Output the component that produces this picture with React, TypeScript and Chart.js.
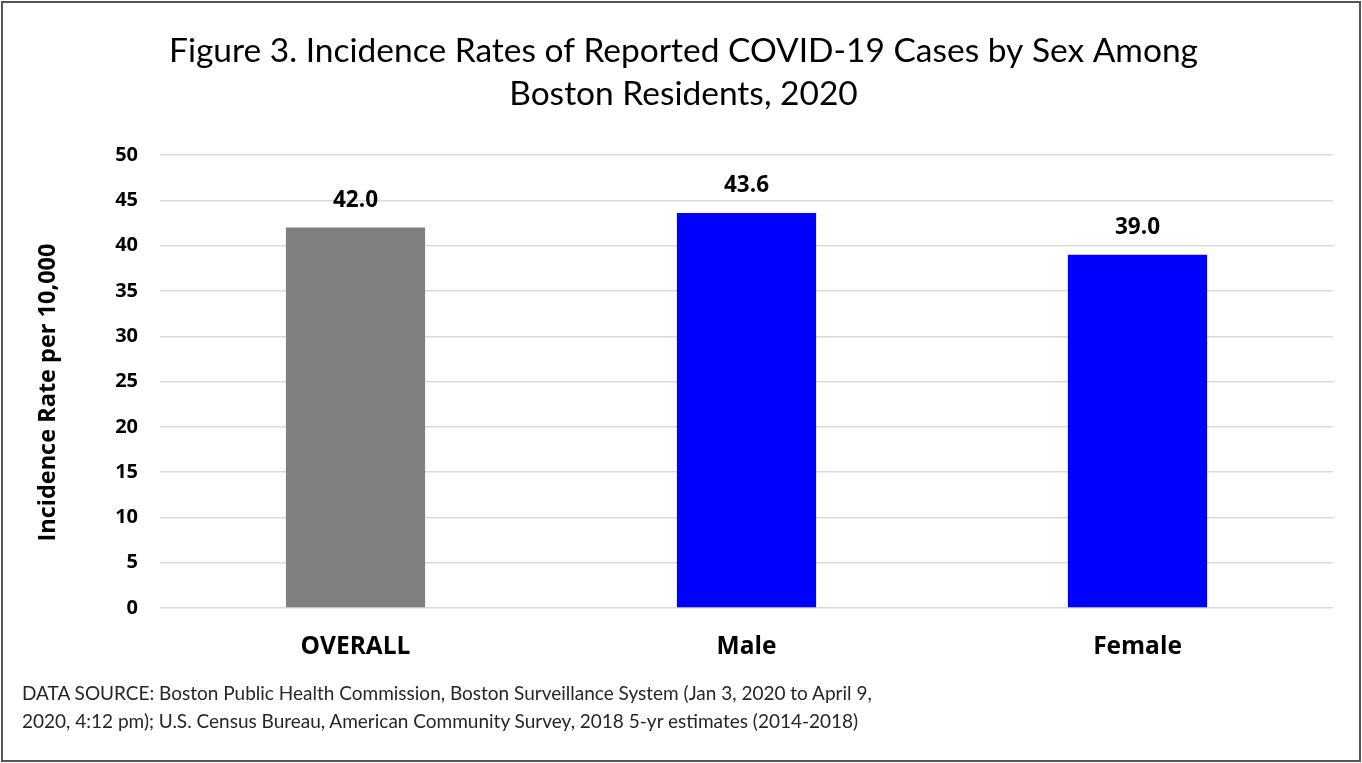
import React, { useEffect, useRef } from "react";
import { Chart, registerables } from "chart.js";

Chart.register(...registerables);

const categories = ["OVERALL", "Male", "Female"];
const rates = [42.0, 43.6, 39.0];
const barColors = ["#808080", "#0000FF", "#0000FF"];
const titleLines = [
  "Figure 3. Incidence Rates of Reported COVID-19 Cases by Sex Among",
  "Boston Residents, 2020",
];
const yAxisTitle = "Incidence Rate per 10,000";
const footerLines = [
  "DATA SOURCE: Boston Public Health Commission, Boston Surveillance System (Jan 3, 2020 to April 9,",
  "2020, 4:12 pm); U.S. Census Bureau, American Community Survey, 2018 5-yr estimates (2014-2018)",
];

const FONT = "Lato, 'Open Sans', sans-serif";
const BOLD = "'Open Sans', Lato, sans-serif";
const W = 1362;
const H = 763;
const PAD_L = 34;
const PAD_R = 29;
const PAD_B = 90;
const AREA_L = 160;
const AREA_B = 608;

const dataLabelPlugin = {
  id: "dataLabels",
  afterDatasetsDraw(chart: any) {
    const ctx = chart.ctx;
    const meta = chart.getDatasetMeta(0);
    ctx.save();
    ctx.font = `bold 22.5px ${BOLD}`;
    ctx.fillStyle = "#000";
    ctx.textAlign = "center";
    ctx.textBaseline = "middle";
    meta.data.forEach((el: any, i: number) => {
      ctx.fillText(rates[i].toFixed(1), el.x, el.y - 27);
    });
    ctx.restore();
  },
};

const yTitlePlugin = {
  id: "yTitle",
  afterDraw(chart: any) {
    const ctx = chart.ctx;
    const area = chart.chartArea;
    ctx.save();
    ctx.translate(48, (area.top + area.bottom) / 2 + 11);
    ctx.rotate(-Math.PI / 2);
    ctx.font = `bold 23.5px ${BOLD}`;
    ctx.fillStyle = "#000";
    ctx.textAlign = "center";
    ctx.textBaseline = "middle";
    ctx.fillText(yAxisTitle, 0, 0);
    ctx.restore();
  },
};

export default function App() {
  const ref = useRef<HTMLCanvasElement | null>(null);
  useEffect(() => {
    document.body.style.margin = "0";
    const chart = new Chart(ref.current as HTMLCanvasElement, {
      type: "bar",
      data: {
        labels: categories,
        datasets: [
          {
            data: rates,
            backgroundColor: barColors,
            barPercentage: 0.356,
            categoryPercentage: 1,
          },
        ],
      },
      options: {
        animation: false,
        responsive: false,
        maintainAspectRatio: false,
        layout: { padding: { left: PAD_L, right: PAD_R, top: 0, bottom: PAD_B } },
        plugins: {
          legend: { display: false },
          tooltip: { enabled: false },
          title: {
            display: true,
            text: titleLines,
            color: "#000",
            font: { family: FONT, size: 33.5, weight: "normal", lineHeight: 1.3 },
            padding: { top: 29, bottom: 39 },
          },
        },
        scales: {
          x: {
            grid: { display: false },
            border: { display: false },
            ticks: {
              color: "#000",
              font: { family: BOLD, size: 24.5, weight: "bold" },
              padding: 16,
            },
            afterFit: (s: any) => {
              s.height = H - AREA_B - PAD_B;
            },
          },
          y: {
            min: 0,
            max: 50,
            ticks: {
              stepSize: 5,
              color: "#000",
              font: { family: BOLD, size: 20, weight: "bold" },
              padding: 22,
            },
            grid: { color: "#d9d9d9", lineWidth: 1.5, drawTicks: false },
            border: { display: false },
            afterFit: (s: any) => {
              s.width = AREA_L - PAD_L;
            },
          },
        },
      },
      plugins: [dataLabelPlugin, yTitlePlugin],
    });
    return () => chart.destroy();
  }, []);

  return (
    <div style={{ position: "relative", width: W, height: H, background: "#fff", overflow: "hidden" }}>
      <canvas ref={ref} width={W} height={H} style={{ position: "absolute", left: 0, top: 0 }} />
      <div
        style={{
          position: "absolute",
          left: 22,
          top: 679,
          fontFamily: FONT,
          fontSize: 19,
          lineHeight: "28px",
          color: "#262626",
          whiteSpace: "pre",
        }}
      >
        {footerLines.map((l, i) => (
          <div key={i}>{l}</div>
        ))}
      </div>
      <div
        style={{
          position: "absolute",
          left: 1,
          top: 1,
          width: W - 2,
          height: H - 2,
          boxSizing: "border-box",
          border: "2px solid #555",
          pointerEvents: "none",
        }}
      />
    </div>
  );
}
